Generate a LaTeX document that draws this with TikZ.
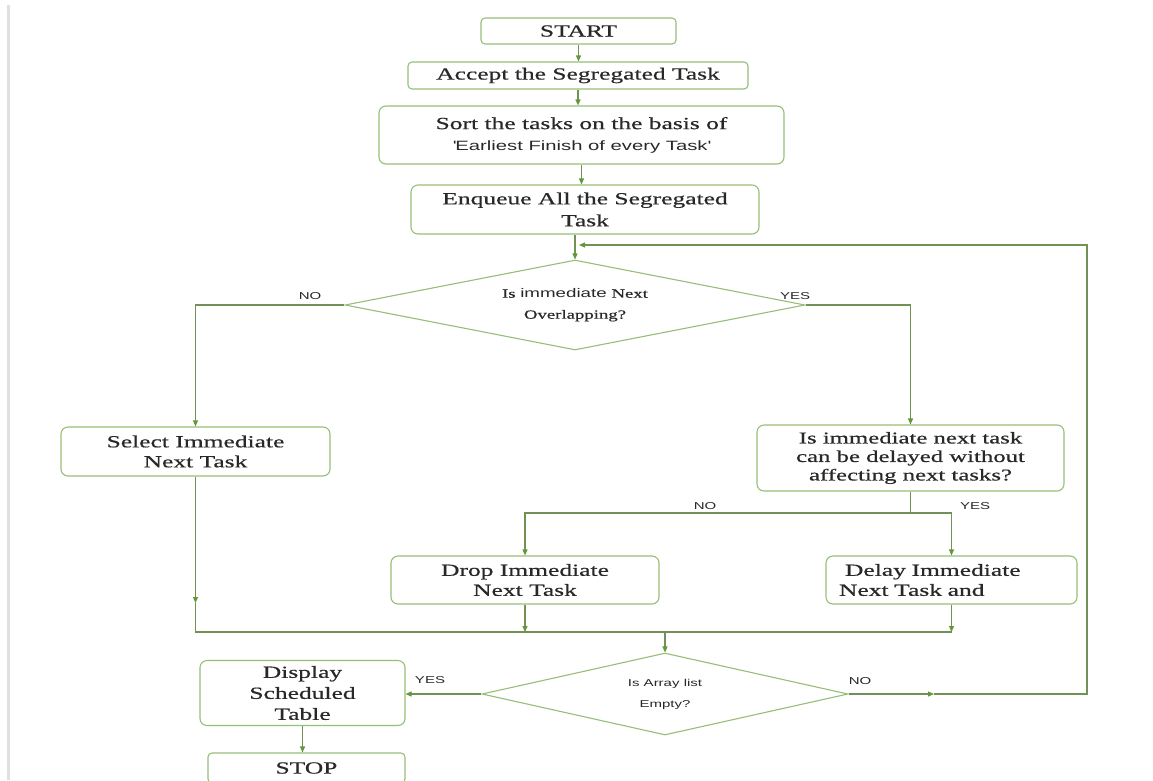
\documentclass[tikz,border=0pt]{standalone}
\usepackage{fontspec}
\setmainfont{Liberation Serif}
\newfontfamily\serifw[FakeStretch=1.5,FakeBold=0.6]{Liberation Serif}
\newfontfamily\sansw[FakeStretch=1.5]{Liberation Sans}
\usetikzlibrary{shapes.geometric,arrows.meta}
\definecolor{boxc}{RGB}{150,190,120}
\definecolor{linec}{RGB}{115,145,85}
\definecolor{arrc}{RGB}{100,150,60}
\definecolor{txtc}{RGB}{40,40,40}
\begin{document}
\begin{tikzpicture}[x=1pt,y=-1pt,
  box/.style={draw=boxc, line width=1.1pt, rounded corners=7pt, align=center, inner sep=0pt, text=txtc,
              font=\serifw\fontsize{17}{20}\selectfont},
  dia/.style={draw=boxc, line width=1.1pt, diamond, shape aspect=5, inner sep=0pt, align=center, text=txtc},
  conn/.style={draw=linec, line width=1.1pt},
  arr/.style={conn, -{Triangle[length=6pt,width=5pt,color=arrc,fill=arrc]}},
  lab/.style={font=\sansw\fontsize{10}{12}\selectfont, text=txtc}
]
\useasboundingbox (0,0) rectangle (1153,780);
\draw[black!12, line width=3pt] (8,5) -- (8,780);

% nodes
\node[box, minimum width=195pt, minimum height=26pt, rounded corners=4pt] (start) at (578.5,31) {START};
\node[box, minimum width=340pt, minimum height=27pt, rounded corners=4pt] (accept) at (578,75.5) {Accept the Segregated Task};
\node[box, minimum width=405pt, minimum height=58pt] (sort) at (581.5,135)
  {Sort the tasks on the basis of\\[1pt]{\sansw\fontsize{13.5}{14}\selectfont\textquotesingle Earliest Finish of every Task\textquotesingle}};
\node[box, minimum width=348pt, minimum height=49pt, font=\serifw\fontsize{17}{22}\selectfont] (enq) at (585,209.5)
  {Enqueue All the Segregated\\Task};
\node[dia, minimum width=460pt, minimum height=90pt, font=\serifw\fontsize{12.5}{21}\selectfont] (d1) at (575,305)
  {Is {\sansw immediate} Next\\Overlapping?};
\node[box, minimum width=269pt, minimum height=49pt] (select) at (195.5,451.5) {Select Immediate\\Next Task};
\node[box, minimum width=307pt, minimum height=66pt, font=\serifw\fontsize{16.5}{18.5}\selectfont] (q2) at (910.5,458)
  {Is immediate next task\\can be delayed without\\affecting next tasks?};
\node[box, minimum width=268pt, minimum height=48pt] (drop) at (525,580) {Drop Immediate\\Next Task};
\node[box, minimum width=251pt, minimum height=48pt, align=left, text width=225pt] (delay) at (951.5,580) {\hspace*{6pt}Delay Immediate\\Next Task and};
\node[dia, minimum width=366pt, minimum height=82pt, font=\sansw\fontsize{10}{21}\selectfont] (d2) at (665,694)
  {Is Array list\\Empty?};
\node[box, minimum width=205pt, minimum height=65pt, font=\serifw\fontsize{17}{21}\selectfont] (display) at (302.5,693) {Display\\Scheduled\\Table};
\node[box, minimum width=197pt, minimum height=30pt, rounded corners=4pt] (stop) at (306.5,768) {STOP};

% labels
\node[lab] (no1) at (310,296) {NO};
\node[lab] (yes1) at (795,296) {YES};
\node[lab] (no2) at (705,506) {NO};
\node[lab] (yes2) at (975,506) {YES};
\node[lab] (yes3) at (430,680) {YES};
\node[lab] (no3) at (860,681) {NO};

% helper coordinates
\coordinate (rx) at (1087,245);
\coordinate (loopEnd) at (579,245);
\coordinate (split) at (910.5,513);
\coordinate (bus) at (0,632);
\coordinate (selM) at (195.5,603);
\coordinate (noM) at (934,694);

% connectors
\draw[arr] (start.south) -- (start.south |- accept.north);
\draw[arr] (accept.south) -- (accept.south |- sort.north);
\draw[arr] (sort.south) -- (sort.south |- enq.north);
\draw[arr] (d1.north |- enq.south) -- (d1.north);
\draw[arr] (d1.west) -| (select.north);
\draw[arr] (d1.east) -| (q2.north);
\draw[conn] (q2.south) -- (split);
\draw[arr] (split) -| (drop.north);
\draw[arr] (split) -| (delay.north);
\draw[arr] (select.south) -- (selM);
\draw[conn] (selM) -- (select.south |- bus) -- (delay.south |- bus);
\draw[arr] (drop.south) -- (drop.south |- bus);
\draw[arr] (delay.south) -- (delay.south |- bus);
\draw[arr] (d2.north |- bus) -- (d2.north);
\draw[arr] (d2.west) -- (d2.west -| display.east);
\draw[arr] (display.south) -- (display.south |- stop.north);
\draw[arr] (d2.east) -- (noM);
\draw[arr] (noM) -- (d2.east -| rx) -- (rx) -- (loopEnd);
\end{tikzpicture}
\end{document}
